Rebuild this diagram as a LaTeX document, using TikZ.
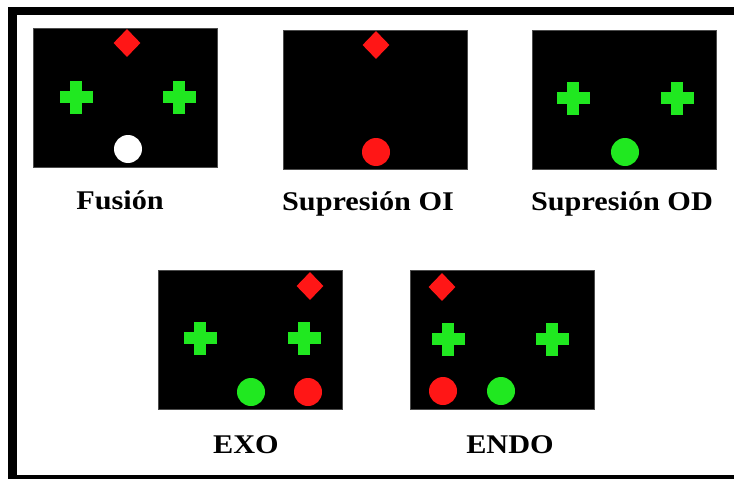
\documentclass[tikz,border=0pt]{standalone}
\usepackage{fontspec}
\setmainfont{Liberation Serif}
\usetikzlibrary{shapes.geometric}
\definecolor{sred}{RGB}{255,22,22}
\definecolor{sgreen}{RGB}{32,232,32}
\tikzset{
  panel/.style={fill=black, draw=black!70, line width=0.5pt, minimum width=184pt, minimum height=139pt, inner sep=0pt, outer sep=0pt},
  dia/.style={diamond, fill=sred, minimum width=27pt, minimum height=28pt, inner sep=0pt},
  dot/.style={circle, fill=#1, minimum size=28pt, inner sep=0pt},
  lbl/.style={anchor=base, font=\fontsize{27}{30}\selectfont\bfseries, text=black, inner sep=0pt},
  armh/.style={fill=sgreen, minimum width=33pt, minimum height=12pt, inner sep=0pt},
  armv/.style={fill=sgreen, minimum width=12pt, minimum height=33pt, inner sep=0pt},
}
\newcommand{\plusmark}[2]{\node[armh] (#1h) at (#2) {};\node[armv] (#1v) at (#2) {};}
\begin{document}
\begin{tikzpicture}[x=1pt,y=-1pt]
\useasboundingbox (0,0) rectangle (734,479);
\fill[white] (0,0) rectangle (734,479);
% frame
\fill[black] (8,7) rectangle (734,15);
\fill[black] (8,7) rectangle (17,479);
\fill[black] (8,475) rectangle (734,479);
% panel 1: Fusion
\node[panel] (p1) at (125,97.5) {};
\node[dia] (p1d) at (127,43) {};
\plusmark{p1l}{76,97}
\plusmark{p1r}{179,97}
\node[dot=white] (p1c) at (128,149) {};
\node[lbl] (t1) at (120,209) {\scalebox{1.12}[1]{Fusión}};
% panel 2: Supresion OI
\node[panel] (p2) at (375,99.5) {};
\node[dia] (p2d) at (376,45) {};
\node[dot=sred] (p2c) at (376,152) {};
\node[lbl] (t2) at (368,210) {\scalebox{1.12}[1]{Supresión OI}};
% panel 3: Supresion OD
\node[panel] (p3) at (624.5,99.5) {};
\plusmark{p3l}{573,98}
\plusmark{p3r}{677,98}
\node[dot=sgreen] (p3c) at (625,152) {};
\node[lbl] (t3) at (622,210) {\scalebox{1.12}[1]{Supresión OD}};
% panel 4: EXO
\node[panel] (p4) at (250,339.5) {};
\node[dia] (p4d) at (310,286) {};
\plusmark{p4l}{200,338}
\plusmark{p4r}{304,338}
\node[dot=sgreen] (p4g) at (251,392) {};
\node[dot=sred] (p4r) at (308,392) {};
\node[lbl] (t4) at (246,453) {\scalebox{1.12}[1]{EXO}};
% panel 5: ENDO
\node[panel] (p5) at (502,339.5) {};
\node[dia] (p5d) at (442,287) {};
\plusmark{p5l}{448,339}
\plusmark{p5r}{552,339}
\node[dot=sred] (p5r) at (443,391) {};
\node[dot=sgreen] (p5g) at (501,391) {};
\node[lbl] (t5) at (510,453) {\scalebox{1.12}[1]{ENDO}};
\end{tikzpicture}
\end{document}
